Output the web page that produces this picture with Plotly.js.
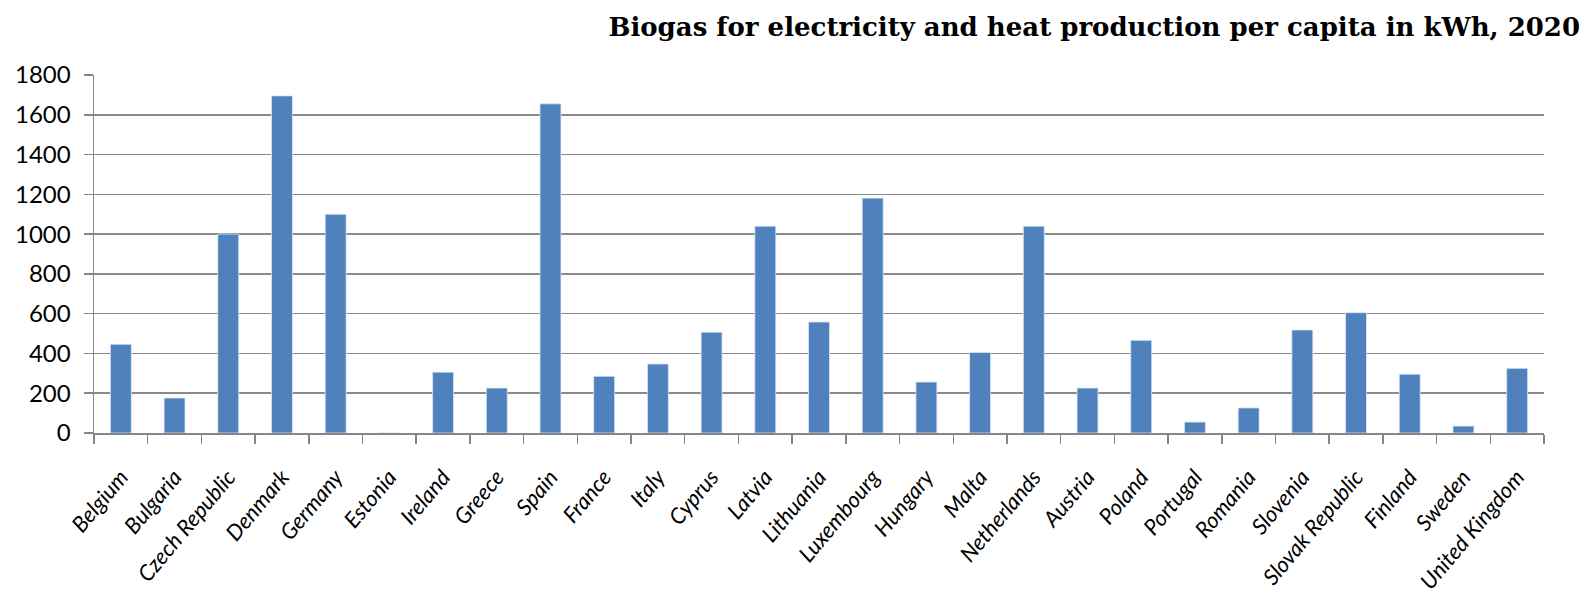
<!DOCTYPE html>
<html>
<head>
<meta charset="utf-8">
<script src="https://cdn.plot.ly/plotly-3.0.1.min.js"></script>
<style>html,body{margin:0;padding:0;background:#fff;}#chart{width:1588px;height:600px;}</style>
</head>
<body>
<div id="chart"></div>
<script>
const countries = ["Belgium","Bulgaria","Czech Republic","Denmark","Germany","Estonia","Ireland","Greece","Spain","France","Italy","Cyprus","Latvia","Lithuania","Luxembourg","Hungary","Malta","Netherlands","Austria","Poland","Portugal","Romania","Slovenia","Slovak Republic","Finland","Sweden","United Kingdom"];
const biogasKWh = [446,176,1000,1695,1100,0,306,226,1655,285,347,507,1040,558,1181,256,405,1040,226,466,55,126,518,605,296,35,325];
const yTicks = [0,200,400,600,800,1000,1200,1400,1600,1800];

const trace = {
  type: 'bar',
  x: countries,
  y: biogasKWh,
  marker: {color: '#4f81bd', line: {color: '#dce6f2', width: 0.8}},
  hoverinfo: 'x+y'
};

const layout = {
  width: 1588, height: 600,
  margin: {l: 94, r: 44, t: 75, b: 167, autoexpand: false},
  paper_bgcolor: '#ffffff', plot_bgcolor: '#ffffff',
  bargap: 0.61,
  showlegend: false,
  title: {
    text: '<b>Biogas for electricity and heat production per capita in kWh, 2020</b>',
    font: {family: 'DejaVu Serif, serif', size: 26, color: '#000'},
    x: 0.995, xanchor: 'right', xref: 'container', y: 0.955, yanchor: 'middle', yref: 'container'
  },
  xaxis: {
    type: 'category',
    tickangle: -50,
    tickson: 'boundaries',
    ticks: 'outside', ticklen: 9, tickcolor: '#868686', tickwidth: 1.5,
    showline: true, linecolor: '#868686', linewidth: 1.5,
    showgrid: false,
    automargin: false,
    ticklabelstandoff: 21,
    tickfont: {family: 'Lato, Open Sans, sans-serif', size: 22, color: '#000', style: 'italic'}
  },
  yaxis: {
    range: [0, 1800],
    tickvals: yTicks,
    ticktext: yTicks.map(String),
    ticks: 'outside', ticklen: 9, tickcolor: '#868686', tickwidth: 1.5,
    showline: true, linecolor: '#868686', linewidth: 1.5,
    showgrid: true, gridcolor: '#8a8a8a', gridwidth: 1.5,
    zeroline: false,
    automargin: false,
    ticklabelstandoff: 8,
    tickfont: {family: 'Lato, Open Sans, sans-serif', size: 24, color: '#000'}
  }
};

Plotly.newPlot('chart', [trace], layout, {displayModeBar: false, staticPlot: true});
</script>
</body>
</html>
